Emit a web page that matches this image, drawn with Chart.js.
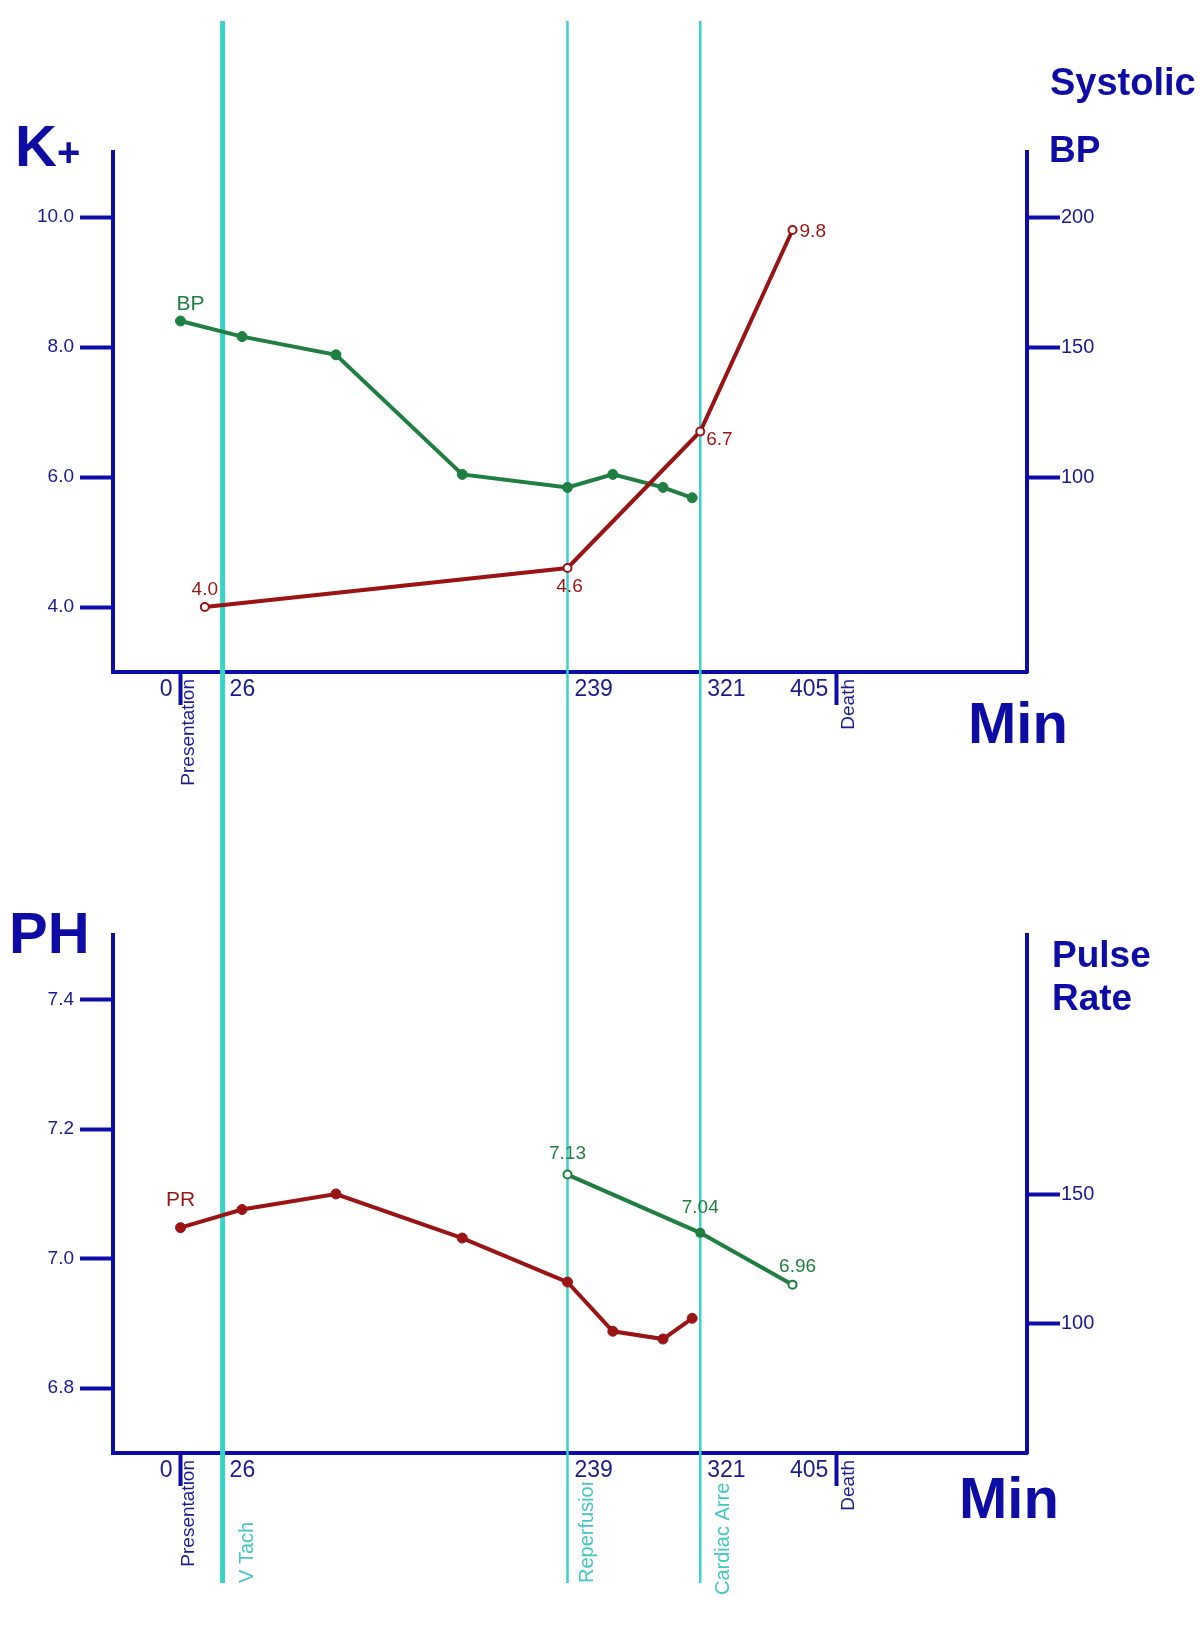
<!DOCTYPE html>
<html>
<head>
<meta charset="utf-8">
<title>K+, BP, pH and pulse rate over time</title>
<script src="https://cdn.jsdelivr.net/npm/chart.js@4.4.1/dist/chart.umd.min.js"></script>
<style>
  html, body { margin: 0; padding: 0; background: #fff; }
  body { position: relative; width: 1200px; height: 1642px; overflow: hidden;
         font-family: "Liberation Sans", Arial, Helvetica, sans-serif; }
  canvas { position: absolute; left: 0; }
  #upper { top: 0; }
  #lower { top: 800px; }
  .title { position: absolute; color: #0d0da6; font-weight: bold; line-height: 1; white-space: nowrap; }
</style>
</head>
<body>
<canvas id="upper" width="1200" height="800"></canvas>
<canvas id="lower" width="1200" height="842"></canvas>

<div class="title" style="left:15px;top:117px;font-size:58px">K<span style="font-size:40px">+</span></div>
<div class="title" style="left:1050px;top:63px;font-size:38px">Systolic</div>
<div class="title" style="left:1049px;top:131px;font-size:37px">BP</div>
<div class="title" style="left:968px;top:694px;font-size:58px">Min</div>
<div class="title" style="left:9px;top:904px;font-size:58px">PH</div>
<div class="title" style="left:1052px;top:936px;font-size:37px">Pulse</div>
<div class="title" style="left:1052px;top:979px;font-size:37px">Rate</div>
<div class="title" style="left:959px;top:1469px;font-size:58px">Min</div>

<script>
// minutes after presentation
var vitalMinutes = [0, 38, 96, 174, 239, 267, 298, 316];
var systolicBP = [160, 154, 147, 101, 96, 101, 96, 92];
var pulseRate = [137, 144, 150, 133, 116, 97, 94, 102];

var potassiumMinutes = [15, 239, 321, 378];
var potassium = [4.0, 4.6, 6.7, 9.8];

var phMinutes = [239, 321, 378];
var phValues = [7.13, 7.04, 6.96];

var markMinutes = [0, 405];
var markNames = ["Presentation", "Death"];
var eventMinutes = [26, 239, 321];
var eventNames = ["V Tach", "Reperfusion", "Cardiac Arrest"];

var kTicks = [4, 6, 8, 10];
var bpTicks = [100, 150, 200];
var phTicks = [6.8, 7.0, 7.2, 7.4];
var prTicks = [100, 150];

var NAVY = "#0c0ca8";
var INK = "#1b1b8e";
var RED = "#9a1414";
var GREEN = "#1e7f40";
var CYAN = "#38d3c9";
var CYAN_TEXT = "#3fc9bf";
var FONT = '"Liberation Sans", Arial, sans-serif';

Chart.defaults.font.family = FONT;

function points(xs, ys) {
  return xs.map(function (x, i) { return { x: x, y: ys[i] }; });
}

function fixedTicks(values) {
  return function (scale) {
    scale.ticks = values.map(function (v) { return { value: v }; });
  };
}

function fixedSize(prop, size) {
  return function (scale) { scale[prop] = size; };
}

function yAxis(side, min, max, values, width, digits) {
  return {
    type: "linear", axis: "y", position: side, min: min, max: max, bounds: "data",
    afterBuildTicks: fixedTicks(values),
    afterFit: fixedSize("width", width),
    border: { color: NAVY, width: 4 },
    grid: { drawOnChartArea: false, tickLength: 33, tickWidth: 4, tickColor: NAVY },
    ticks: {
      color: INK, padding: side === "left" ? 6 : 1,
      font: { size: side === "left" ? 19 : 20 },
      callback: function (v) { return v.toFixed(digits); }
    }
  };
}

// x axis: line + presentation/death ticks, plus two label-only axes
// (mirrored labels are not clipped to the zero-height label axes)
function timeAxes(height) {
  var base = { type: "linear", axis: "x", position: "bottom", min: -41.7, max: 522.8, bounds: "data" };
  var labels = {
    color: INK, font: { size: 23 }, mirror: true, padding: -31,
    autoSkip: false, maxRotation: 0, minRotation: 0,
    callback: function (v) { return String(v); }
  };
  return {
    xEnd: Object.assign({}, base, {
      weight: 0,
      afterBuildTicks: fixedTicks(markMinutes),
      afterFit: fixedSize("height", 0),
      border: { display: false },
      grid: { display: false, drawTicks: false },
      ticks: Object.assign({}, labels, { align: "end", labelOffset: -8 })
    }),
    xStart: Object.assign({}, base, {
      weight: 1,
      afterBuildTicks: fixedTicks(eventMinutes),
      afterFit: fixedSize("height", 0),
      border: { display: false },
      grid: { display: false, drawTicks: false },
      ticks: Object.assign({}, labels, { align: "start", labelOffset: 7 })
    }),
    x: Object.assign({}, base, {
      weight: 2,
      afterBuildTicks: fixedTicks(markMinutes),
      afterFit: fixedSize("height", height),
      border: { color: NAVY, width: 4 },
      grid: { drawOnChartArea: false, tickLength: 33, tickWidth: 4, tickColor: NAVY },
      ticks: { display: false }
    })
  };
}

var overlay = {
  id: "overlay",
  beforeDraw: function (chart, args, opts) {
    if (!opts.eventLabels) return;
    var ctx = chart.ctx, xs = chart.scales.x;
    ctx.save();
    ctx.beginPath();
    ctx.rect(0, opts.eventClipTop, chart.width, chart.height - opts.eventClipTop);
    ctx.clip();
    ctx.fillStyle = CYAN_TEXT;
    ctx.font = "20px " + FONT;
    ctx.textAlign = "left";
    ctx.textBaseline = "middle";
    eventNames.forEach(function (name, i) {
      ctx.save();
      ctx.translate(xs.getPixelForValue(eventMinutes[i]) + opts.eventDx[i], opts.eventBottom[i]);
      ctx.rotate(-Math.PI / 2);
      ctx.fillText(name, 0, 0);
      ctx.restore();
    });
    ctx.restore();
  },
  beforeDatasetsDraw: function (chart, args, opts) {
    var ctx = chart.ctx, xs = chart.scales.x;
    ctx.save();
    ctx.strokeStyle = CYAN;
    eventMinutes.forEach(function (t, i) {
      var px = xs.getPixelForValue(t);
      ctx.lineWidth = i === 0 ? 5 : 2.5;
      ctx.beginPath();
      ctx.moveTo(px, opts.lineTop);
      ctx.lineTo(px, opts.lineBottom);
      ctx.stroke();
    });
    ctx.restore();
  },
  afterDatasetsDraw: function (chart, args, opts) {
    var ctx = chart.ctx, xs = chart.scales.x, area = chart.chartArea;
    ctx.save();
    ctx.textBaseline = "middle";

    // Presentation / Death, reading upwards under their ticks
    ctx.fillStyle = INK;
    ctx.font = "19px " + FONT;
    ctx.textAlign = "right";
    markNames.forEach(function (name, i) {
      ctx.save();
      ctx.translate(xs.getPixelForValue(markMinutes[i]) + opts.markDx[i], area.bottom + 7);
      ctx.rotate(-Math.PI / 2);
      ctx.fillText(name, 0, 0);
      ctx.restore();
    });

    // series name next to its first point
    opts.tags.forEach(function (tag) {
      var pt = chart.getDatasetMeta(tag.ds).data[0];
      ctx.fillStyle = tag.color;
      ctx.font = "21px " + FONT;
      ctx.textAlign = "center";
      ctx.fillText(tag.text, pt.x + tag.dx, pt.y + tag.dy);
    });

    // value labels
    var vl = opts.values;
    var meta = chart.getDatasetMeta(vl.ds);
    var vals = chart.data.datasets[vl.ds].data;
    ctx.fillStyle = vl.color;
    ctx.font = "19px " + FONT;
    meta.data.forEach(function (pt, i) {
      var p = vl.place[i];
      ctx.textAlign = p[2];
      ctx.fillText(vals[i].y.toFixed(vl.digits), pt.x + p[0], pt.y + p[1]);
    });
    ctx.restore();
  }
};

var common = {
  responsive: false,
  animation: false,
  events: [],
  plugins: { legend: { display: false }, tooltip: { enabled: false } }
};

new Chart(document.getElementById("upper"), {
  type: "line",
  data: {
    datasets: [
      {
        label: "K+", xAxisID: "x", yAxisID: "k", data: points(potassiumMinutes, potassium),
        borderColor: RED, borderWidth: 4, pointRadius: 4, pointBorderWidth: 2,
        pointBackgroundColor: "#fff", pointBorderColor: RED
      },
      {
        label: "BP", xAxisID: "x", yAxisID: "bp", data: points(vitalMinutes, systolicBP),
        borderColor: GREEN, borderWidth: 4, pointRadius: 5, pointBorderWidth: 1,
        pointBackgroundColor: GREEN, pointBorderColor: GREEN
      }
    ]
  },
  options: Object.assign({}, common, {
    layout: { padding: { top: 152, left: 0, right: 0, bottom: 0 } },
    scales: Object.assign(timeAxes(128), {
      k: yAxis("left", 3, 11, kTicks, 113, 1),
      bp: yAxis("right", 25, 225, bpTicks, 173, 0)
    }),
    plugins: Object.assign({}, common.plugins, {
      overlay: {
        lineTop: 21, lineBottom: 800,
        markDx: [8, 12],
        eventLabels: false,
        tags: [{ ds: 1, text: "BP", dx: 10, dy: -17, color: GREEN }],
        values: {
          ds: 0, digits: 1, color: RED,
          place: [[0, -17, "center"], [2, 19, "center"], [6, 8, "left"], [7, 2, "left"]]
        }
      }
    })
  }),
  plugins: [overlay]
});

new Chart(document.getElementById("lower"), {
  type: "line",
  data: {
    datasets: [
      {
        label: "PR", xAxisID: "x", yAxisID: "pr", data: points(vitalMinutes, pulseRate),
        borderColor: RED, borderWidth: 4, pointRadius: 5, pointBorderWidth: 1,
        pointBackgroundColor: RED, pointBorderColor: RED
      },
      {
        label: "pH", xAxisID: "x", yAxisID: "ph", data: points(phMinutes, phValues),
        borderColor: GREEN, borderWidth: 4, pointRadius: 4, pointBorderWidth: 2,
        pointBackgroundColor: ["#fff", GREEN, "#fff"], pointBorderColor: GREEN
      }
    ]
  },
  options: Object.assign({}, common, {
    layout: { padding: { top: 135, left: 0, right: 0, bottom: 0 } },
    scales: Object.assign(timeAxes(189), {
      ph: yAxis("left", 6.7, 7.5, phTicks, 113, 1),
      pr: yAxis("right", 50, 250, prTicks, 173, 0)
    }),
    plugins: Object.assign({}, common.plugins, {
      overlay: {
        lineTop: 0, lineBottom: 783,
        markDx: [8, 12],
        eventLabels: true,
        eventDx: [25, 20, 23],
        eventBottom: [783, 783, 795],
        eventClipTop: 682,
        tags: [{ ds: 0, text: "PR", dx: 0, dy: -27, color: RED }],
        values: {
          ds: 1, digits: 2, color: GREEN,
          place: [[0, -21, "center"], [0, -25, "center"], [5, -18, "center"]]
        }
      }
    })
  }),
  plugins: [overlay]
});
</script>
</body>
</html>
